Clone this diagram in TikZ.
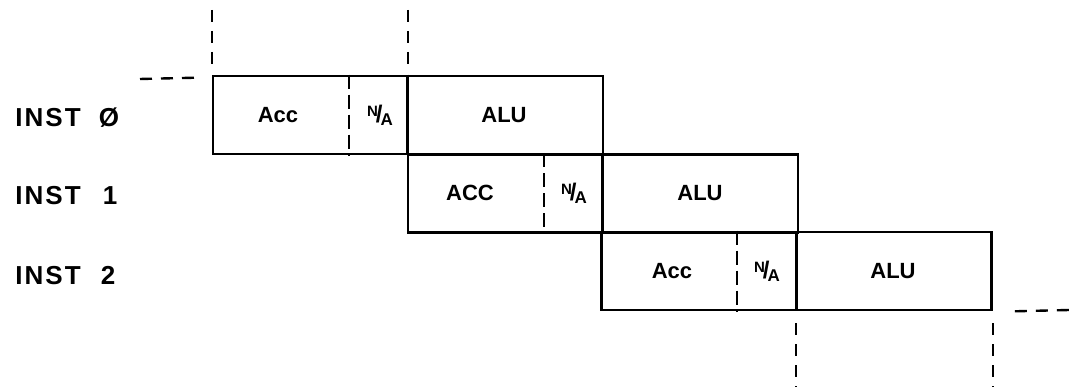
\documentclass[tikz,border=0pt]{standalone}
\usepackage{fontspec}
\setmainfont{Liberation Sans}
\usetikzlibrary{calc}
\begin{document}
\begin{tikzpicture}[x=1pt,y=-1pt,
  line width=2.6pt,
  rowbox/.style={draw, rectangle, minimum width=390pt, minimum height=78pt, inner sep=0pt},
  guide/.style={line width=2.4pt, dash pattern=on 12pt off 9pt},
  lbl/.style={font=\fontsize{26}{30}\selectfont\bfseries\addfontfeature{LetterSpace=8}, anchor=west, inner sep=0pt},
  cell/.style={font=\fontsize{22}{24}\selectfont\bfseries, inner sep=0pt},
  na/.style={font=\fontsize{22}{24}\selectfont\bfseries, inner sep=0pt}
]
\useasboundingbox (0,0) rectangle (1069,387);
\newcommand{\nafrac}{\raisebox{6pt}{\fontsize{15}{16}\selectfont N}\kern-2pt{\fontsize{24}{26}\selectfont/}\kern-2pt\raisebox{-3pt}{\fontsize{17}{18}\selectfont A}}

% row boxes
\node[rowbox] (r0) at (408,115) {};
\node[rowbox] (r1) at (603,193.5) {};
\node[rowbox] (r2) at (796.5,271) {};

% dividers
\foreach \r in {r0,r1,r2} {
  \draw[line width=2pt, dash pattern=on 14pt off 6pt] ($(\r.north west)+(137,0)$) -- ($(\r.south west)+(137,0)$);
  \draw ($(\r.north west)+(196,0)$) -- ($(\r.south west)+(196,0)$);
}

% cell texts
\node[cell] (acc0) at (278,115) {Acc};
\node[na] (na0) at (380,115) {\nafrac};
\node[cell] (alu0) at (504,115) {ALU};
\node[cell] (acc1) at (470,193) {ACC};
\node[na] (na1) at (574,193) {\nafrac};
\node[cell] (alu1) at (700,193) {ALU};
\node[cell] (acc2) at (672,271) {Acc};
\node[na] (na2) at (767,271) {\nafrac};
\node[cell] (alu2) at (893,271) {ALU};

% row labels
\node[lbl] (l0) at (14,118) {INST\hspace{18pt}Ø};
\node[lbl] (l1) at (14,196) {INST\hspace{22pt}1};
\node[lbl] (l2) at (14,276) {INST\hspace{20pt}2};

% timing guides
\coordinate (t0) at (r0.north west |- 0,10);
\coordinate (t1) at ($(r0.north west)+(196,0)$);
\coordinate (lf) at (140,79);
\coordinate (b0) at ($(r2.south west)+(196,0)$);
\coordinate (b1) at (r2.south east);
\coordinate (rf) at (1069,310);
\draw[guide] (t0) -- ($(r0.north west)+(0,-5)$);
\draw[guide] (t1 |- 0,10) -- ($(t1)+(0,-5)$);
\draw[guide] (lf) -- ($(r0.north west)+(-16,3)$);
\draw[guide] ($(b0)+(0,12)$) -- (b0 |- 0,387);
\draw[guide] ($(b1)+(0,12)$) -- (b1 |- 0,387);
\draw[guide] ($(b1)+(22,0)$) -- (rf);
\end{tikzpicture}
\end{document}
